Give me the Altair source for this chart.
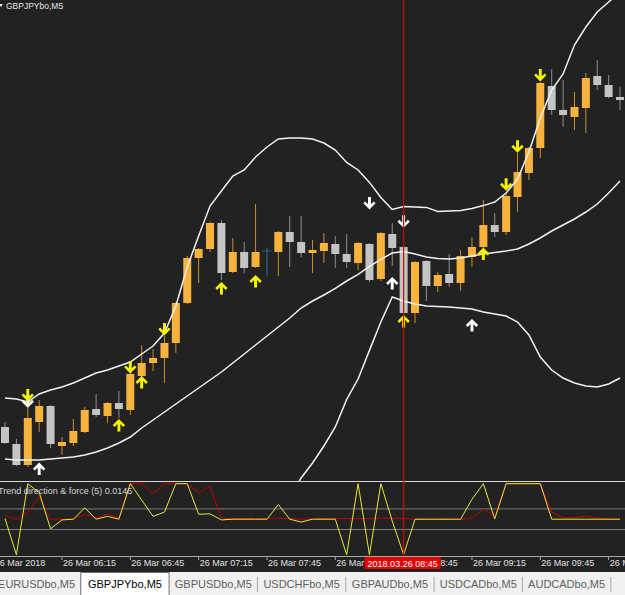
import altair as alt
import pandas as pd

DAY = "2018-03-26"
SYMBOL_TITLE = "GBPJPYbo,M5"
INDICATOR_TITLE = "Trend direction & force (5) 0.0145"

TIMES = ["05:50", "05:55",
         "06:00", "06:05", "06:10", "06:15", "06:20", "06:25", "06:30", "06:35", "06:40", "06:45", "06:50", "06:55",
         "07:00", "07:05", "07:10", "07:15", "07:20", "07:25", "07:30", "07:35", "07:40", "07:45", "07:50", "07:55",
         "08:00", "08:05", "08:10", "08:15", "08:20", "08:25", "08:30", "08:35", "08:40", "08:45", "08:50", "08:55",
         "09:00", "09:05", "09:10", "09:15", "09:20", "09:25", "09:30", "09:35", "09:40", "09:45", "09:50", "09:55",
         "10:00", "10:05", "10:10", "10:15", "10:20"]

OPEN = [148.865, 148.780, 148.675, 148.890, 148.970, 148.770, 148.785, 148.840, 148.955, 148.920,
        148.985, 148.950, 149.120, 149.185, 149.210, 149.285, 149.485, 149.710, 149.755, 149.885,
        149.640, 149.740, 149.665, 149.745, 149.740, 149.840, 149.790, 149.735, 149.745, 149.780,
        149.730, 149.685, 149.780, 149.605, 149.830, 149.765, 149.435, 149.695, 149.570, 149.630,
        149.585, 149.715, 149.765, 149.875, 149.840, 150.015, 150.135, 150.260, 150.570, 150.450,
        150.415, 150.460, 150.620, 150.575, 150.515]
HIGH = [148.890, 148.805, 148.970, 149.000, 148.975, 148.815, 148.905, 148.965, 149.030, 148.990,
        149.045, 149.150, 149.275, 149.255, 149.320, 149.490, 149.720, 149.760, 149.890, 149.900,
        149.810, 149.790, 149.980, 149.760, 149.845, 149.920, 149.920, 149.800, 149.835, 149.820,
        149.830, 149.790, 149.785, 149.840, 149.885, 149.770, 149.695, 149.700, 149.640, 149.730,
        149.750, 149.815, 150.000, 149.935, 150.035, 150.235, 150.265, 150.590, 150.655, 150.600,
        150.540, 150.635, 150.700, 150.625, 150.565]
LOW = [148.780, 148.670, 148.665, 148.840, 148.760, 148.725, 148.770, 148.835, 148.915, 148.885,
       148.910, 148.925, 149.115, 149.145, 149.085, 149.235, 149.480, 149.585, 149.740, 149.600,
       149.635, 149.635, 149.660, 149.620, 149.620, 149.665, 149.715, 149.635, 149.685, 149.660,
       149.660, 149.650, 149.590, 149.595, 149.670, 149.425, 149.385, 149.495, 149.540, 149.565,
       149.545, 149.665, 149.750, 149.815, 149.825, 149.940, 150.100, 150.210, 150.425, 150.365,
       150.350, 150.335, 150.550, 150.510, 150.450]
CLOSE = [148.785, 148.675, 148.910, 148.970, 148.780, 148.790, 148.845, 148.950, 148.925, 148.985,
         148.955, 149.130, 149.185, 149.210, 149.285, 149.485, 149.710, 149.755, 149.885, 149.635,
         149.740, 149.660, 149.740, 149.745, 149.840, 149.790, 149.735, 149.750, 149.785, 149.730,
         149.690, 149.785, 149.600, 149.835, 149.760, 149.435, 149.690, 149.570, 149.625, 149.585,
         149.720, 149.765, 149.875, 149.840, 150.020, 150.140, 150.260, 150.585, 150.450, 150.425,
         150.465, 150.610, 150.575, 150.515, 150.500]

BB_UPPER = [149.010, 149.005, 148.990, 149.030, 149.050, 149.065, 149.085, 149.110, 149.135, 149.150,
            149.170, 149.190, 149.230, 149.270, 149.335, 149.470, 149.665, 149.820, 149.970, 150.045,
            150.120, 150.150, 150.215, 150.265, 150.305, 150.310, 150.310, 150.305, 150.285, 150.250,
            150.188, 150.150, 150.088, 150.013, 149.953, 149.967, 149.965, 149.963, 149.943, 149.945,
            149.947, 149.958, 149.972, 149.990, 150.035, 150.105, 150.240, 150.410, 150.550, 150.630,
            150.775, 150.865, 150.940, 150.990, 151.040]
BB_MIDDLE = [148.705, 148.700, 148.700, 148.700, 148.705, 148.710, 148.715, 148.725, 148.740, 148.760,
             148.785, 148.815, 148.860, 148.900, 148.940, 148.980, 149.020, 149.060, 149.100, 149.140,
             149.185, 149.230, 149.275, 149.320, 149.365, 149.410, 149.460, 149.495, 149.525, 149.558,
             149.595, 149.628, 149.668, 149.703, 149.735, 149.743, 149.730, 149.715, 149.708, 149.705,
             149.710, 149.720, 149.730, 149.738, 149.745, 149.755, 149.780, 149.810, 149.845, 149.875,
             149.905, 149.940, 149.980, 150.035, 150.095]
BB_LOWER = [148.400, 148.395, 148.410, 148.370, 148.360, 148.355, 148.345, 148.340, 148.345, 148.370,
            148.400, 148.440, 148.490, 148.530, 148.545, 148.490, 148.375, 148.300, 148.230, 148.235,
            148.250, 148.310, 148.335, 148.375, 148.425, 148.510, 148.610, 148.685, 148.770, 148.865,
            149.003, 149.105, 149.248, 149.390, 149.515, 149.495, 149.480, 149.470, 149.468, 149.465,
            149.460, 149.455, 149.440, 149.430, 149.420, 149.390, 149.325, 149.215, 149.150, 149.110,
            149.085, 149.070, 149.065, 149.080, 149.110]

# Trend direction & force: fast (yellow) and slow (red) lines
TDF_FAST = [0.02, -1.0, 1.0, 0.75, -0.27, -0.02, 0.0, 0.32, 0.0, 0.08,
            0.0, 1.0, 0.54, 0.08, 0.2, 1.0, 1.0, 0.14, 0.15, -0.02,
            0.0, 0.0, 0.0, 0.0, 0.41, 0.0, -0.08, 0.0, 0.0, 0.0,
            -1.0, 1.0, -1.0, 1.0, -0.05, -1.0, 0.0, 0.0, 0.0, 0.0,
            0.0, 0.56, 1.0, 0.01, 1.0, 1.0, 1.0, 1.0, 0.0, 0.0,
            0.0, 0.0, 0.0, 0.0, 0.0]
TDF_SLOW = [0.1, 0.0, 0.2, 0.63, 0.0, 0.0, 0.0, 0.14, 0.03, 0.14,
            0.03, 1.0, 1.0, 0.72, 1.0, 1.0, 1.0, 0.74, 0.93, 0.03,
            0.02, 0.02, 0.02, 0.02, 0.03, 0.02, 0.0, 0.0, 0.02, 0.02,
            0.02, 0.02, 0.02, 0.03, 0.03, 0.02, 0.0, 0.0, 0.0, 0.0,
            0.0, 0.03, 0.28, 0.07, 1.0, 1.0, 1.0, 1.0, 0.2, 0.04,
            0.04, 0.09, 0.03, 0.0, 0.0]
TDF_LEVELS = [0.29, -0.29]

YELLOW_DOWN_T = ["06:00", "06:45", "07:00", "09:30", "09:35", "09:45"]
YELLOW_DOWN_P = [149.025, 149.165, 149.355, 150.078, 150.268, 150.625]
YELLOW_UP_T = ["06:40", "06:50", "07:25", "07:40", "08:45", "09:20"]
YELLOW_UP_P = [148.873, 149.088, 149.558, 149.593, 149.393, 149.730]
WHITE_DOWN_T = ["06:00", "08:30", "08:45"]
WHITE_DOWN_P = [148.993, 149.985, 149.893]
WHITE_UP_T = ["06:05", "08:40", "09:15"]
WHITE_UP_P = [148.655, 149.583, 149.373]

TICK_TIMES = ["05:45", "06:15", "06:45", "07:15", "07:45", "08:15", "08:45", "09:15", "09:45", "10:15"]
TICK_LABELS = ["26 Mar 2018", "26 Mar 06:15", "26 Mar 06:45", "26 Mar 07:15", "26 Mar 07:45",
               "26 Mar 08:15", "26 Mar 08:45", "26 Mar 09:15", "26 Mar 09:45", "26 Mar 10:15"]
CURSOR_TIME = "08:45"
CURSOR_LABEL = "2018.03.26 08:45"

TABS = ["EURUSDbo,M5", "GBPJPYbo,M5", "GBPUSDbo,M5", "USDCHFbo,M5", "GBPAUDbo,M5", "USDCADbo,M5", "AUDCADbo,M5"]
ACTIVE_TAB = "GBPJPYbo,M5"

BG = "#222222"
FONT = "Liberation Sans"


def iso(hm):
    return f"{DAY}T{hm}:00Z"


T = [iso(h) for h in TIMES]

XS = alt.Scale(type="utc", nice=False, domain=[
    alt.DateTime(year=2018, month=3, date=26, hours=5, minutes=47, seconds=48, utc=True),
    alt.DateTime(year=2018, month=3, date=26, hours=10, minutes=22, seconds=11, utc=True)])
PY = alt.Scale(domain=[148.595, 151.0], range=[481, 0], nice=False, zero=False)
IY = alt.Scale(domain=[-1.05, 1.05], range=[556.5, 481.9], nice=False, zero=False)


def X(field="t"):
    return alt.X(f"{field}:T", scale=XS, axis=None)


def one():
    return alt.Chart(alt.InlineData(values=[{}]))


candles = pd.DataFrame({"t": T, "open": OPEN, "high": HIGH, "low": LOW, "close": CLOSE})
candles["dir"] = ["up" if c > o else ("down" if c < o else "doji") for o, c in zip(OPEN, CLOSE)]
cbase = alt.Chart(candles)

price_layers = []
for d, col in [("up", "#c98e2c"), ("down", "#8e8e8e"), ("doji", "#3a6cb0")]:
    price_layers.append(
        cbase.transform_filter(f"datum.dir == '{d}'").mark_rule(color=col, strokeWidth=1).encode(
            x=X(), y=alt.Y("low:Q", scale=PY, axis=None), y2="high:Q"))
for d, col in [("up", "#f8b33d"), ("down", "#c4c4c4")]:
    price_layers.append(
        cbase.transform_filter(f"datum.dir == '{d}'").mark_rule(color=col, strokeWidth=8).encode(
            x=X(), y=alt.Y("open:Q", scale=PY, axis=None), y2="close:Q"))
price_layers.append(
    cbase.transform_filter("datum.dir == 'doji'").mark_tick(color="#3a6cb0", orient="horizontal", size=9, thickness=1).encode(
        x=X(), y=alt.Y("open:Q", scale=PY, axis=None)))

bands = pd.DataFrame({"t": T * 3, "price": BB_UPPER + BB_MIDDLE + BB_LOWER,
                      "band": ["upper"] * len(T) + ["middle"] * len(T) + ["lower"] * len(T)})
price_layers.append(alt.Chart(bands).mark_line(color="#f2f2f2", strokeWidth=1.5).encode(
    x=X(), y=alt.Y("price:Q", scale=PY, axis=None), detail="band:N"))

DOWN = "M-0.24,-1L0.24,-1L0.24,0.21L0.7,-0.25L1,0.05L0,1.05L-1,0.05L-0.7,-0.25L-0.24,0.21Z"
UP = "M-0.24,1L0.24,1L0.24,-0.21L0.7,0.25L1,-0.05L0,-1.05L-1,-0.05L-0.7,0.25L-0.24,-0.21Z"


def arrows(times, prices, shape, color):
    df = pd.DataFrame({"t": [iso(h) for h in times], "price": prices})
    return alt.Chart(df).mark_point(shape=shape, size=150, filled=True, opacity=1, color=color, strokeWidth=0).encode(
        x=X(), y=alt.Y("price:Q", scale=PY, axis=None))


price_layers += [arrows(WHITE_DOWN_T, WHITE_DOWN_P, DOWN, "#ffffff"),
                 arrows(WHITE_UP_T, WHITE_UP_P, UP, "#ffffff"),
                 arrows(YELLOW_DOWN_T, YELLOW_DOWN_P, DOWN, "#f5f500"),
                 arrows(YELLOW_UP_T, YELLOW_UP_P, UP, "#f5f500")]
price_layers.append(one().mark_point(shape="triangle-down", size=14, filled=True, opacity=1, color="#e6e6e6",
                                     strokeWidth=0).encode(x=alt.value(1), y=alt.value(5.5)))
price_layers.append(one().mark_text(text=SYMBOL_TITLE, align="left", baseline="alphabetic", fontSize=8.5,
                                    color="#e6e6e6").encode(x=alt.value(6), y=alt.value(9)))
price = alt.layer(*price_layers)

# indicator panel + time axis
ind_layers = [
    one().mark_rect(color=BG).encode(x=alt.value(0), x2=alt.value(625), y=alt.value(481), y2=alt.value(595)),
    one().mark_rule(color="#d8d8d8").encode(x=alt.value(0), x2=alt.value(625), y=alt.value(481.5)),
    alt.Chart(pd.DataFrame({"v": TDF_LEVELS})).mark_rule(color="#7c7c7c").encode(
        y=alt.Y("v:Q", scale=IY, axis=None)),
    alt.Chart(pd.DataFrame({"t": T, "v": TDF_SLOW})).mark_line(color="#c40000", strokeWidth=1).encode(
        x=X(), y=alt.Y("v:Q", scale=IY, axis=None)),
    alt.Chart(pd.DataFrame({"t": T, "v": TDF_FAST})).mark_line(color="#e8e83c", strokeWidth=1).encode(
        x=X(), y=alt.Y("v:Q", scale=IY, axis=None)),
    one().mark_text(text=INDICATOR_TITLE, align="left", baseline="middle", fontSize=9, color="#d4d4d4").encode(
        x=alt.value(-2), y=alt.value(490.5)),
    one().mark_rule(color="#a8a8a8").encode(x=alt.value(0), x2=alt.value(625), y=alt.value(556.5)),
]
ticks = pd.DataFrame({"t": [iso(h) for h in TICK_TIMES], "label": TICK_LABELS})
ind_layers.append(alt.Chart(ticks).mark_rule(color="#a8a8a8").encode(x=X(), y=alt.value(556.5), y2=alt.value(560)))
ind_layers.append(alt.Chart(ticks).mark_text(align="left", baseline="top", dx=1, fontSize=9, color="#e0e0e0").encode(
    x=X(), y=alt.value(558.5), text="label:N"))
cur = pd.DataFrame({"t": [iso(CURSOR_TIME)], "label": [CURSOR_LABEL]})
ind_layers.append(alt.Chart(cur).mark_rule(color="#d40000", strokeWidth=1.2).encode(x=X(), y=alt.value(0), y2=alt.value(556)))
ind_layers.append(alt.Chart(cur).mark_point(shape="M-1,-0.16L1,-0.16L1,0.16L-1,0.16Z", size=5776, filled=True,
                                            opacity=1, color="#e40000", strokeWidth=0).encode(
    x=X(), y=alt.value(563), xOffset=alt.value(-1)))
ind_layers.append(alt.Chart(cur).mark_text(align="center", baseline="middle", fontSize=9, color="#ffffff", dx=-1).encode(
    x=X(), y=alt.value(563.5), text="label:N"))
indicator = alt.layer(*ind_layers)

# symbol tabs
act = TABS.index(ACTIVE_TAB)
tabs_df = pd.DataFrame({"tab": TABS,
                        "active": [t == ACTIVE_TAB for t in TABS],
                        "sep": [i > act for i in range(len(TABS))]})
TX = alt.Scale(type="band", domain=TABS, range=[-7.6, 610.8], paddingInner=0, paddingOuter=0)
tb = alt.Chart(tabs_df)
tabs = alt.layer(
    one().mark_rect(color="#f0f0f0").encode(x=alt.value(0), x2=alt.value(625), y=alt.value(572), y2=alt.value(595)),
    tb.transform_filter("datum.active").mark_rect(fill="#ffffff", stroke="#707070", strokeWidth=1).encode(
        x=alt.X("tab:N", scale=TX, axis=None), y=alt.value(572.5), y2=alt.value(600)),
    tb.transform_filter("datum.sep").mark_rule(color="#a8a8a8").encode(
        x=alt.X("tab:N", scale=TX, axis=None, bandPosition=1), y=alt.value(577), y2=alt.value(592)),
    tb.mark_text(fontSize=11, baseline="middle", align="center").encode(
        x=alt.X("tab:N", scale=TX, axis=None, bandPosition=0.5), y=alt.value(584.5), text="tab:N",
        color=alt.condition("datum.active", alt.value("#000000"), alt.value("#5e5e5e"))),
)

chart = (alt.layer(price, indicator, tabs)
         .resolve_scale(x="independent", y="independent")
         .properties(width=625, height=595, padding=0, background=BG,
                     autosize=alt.AutoSizeParams(type="none"))
         .configure_view(stroke=None)
         .configure_text(font=FONT))

chart.save("out.html", embed_options={"renderer": "svg", "actions": False})
